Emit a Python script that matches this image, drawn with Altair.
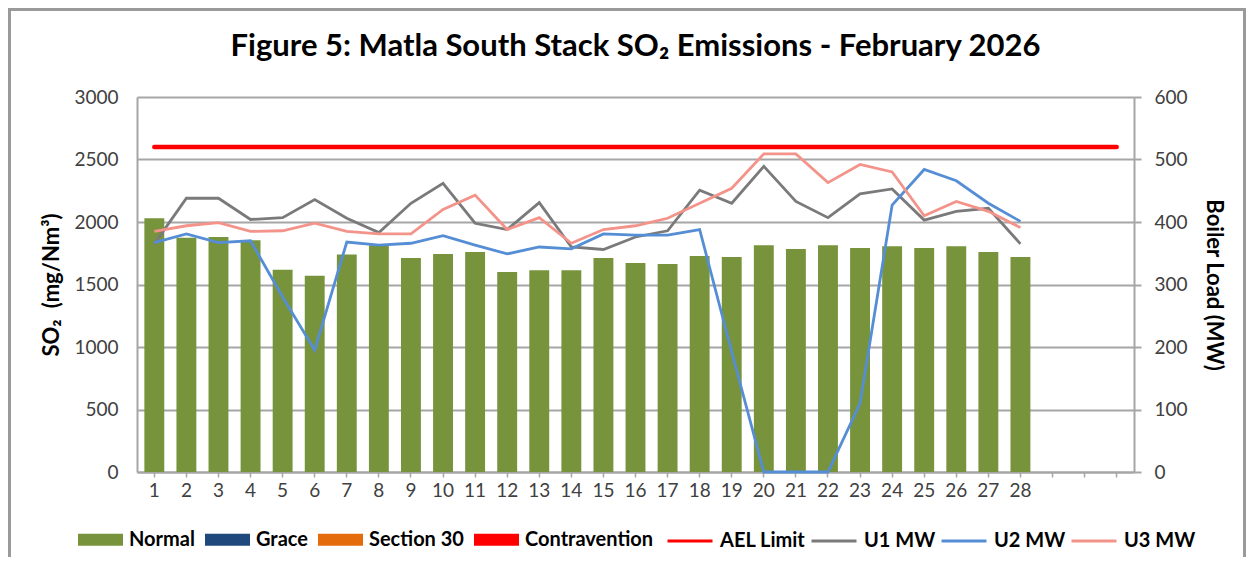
import altair as alt
import pandas as pd

# ---------------- data ----------------
days = list(range(1, 32))          # axis categories (February + 3 empty slots)
data_days = list(range(1, 29))     # days with data

so2 = [2030, 1875, 1880, 1855, 1618, 1570, 1740, 1815, 1712, 1745, 1760, 1600, 1615, 1615,
       1712, 1672, 1665, 1728, 1720, 1815, 1785, 1815, 1793, 1806, 1793, 1806, 1760, 1720]
ael_limit = 2600

u1_mw = [365, 438, 438, 404, 407, 436, 406, 383, 430, 462, 398, 388, 431, 360,
         356, 376, 386, 451, 430, 489, 433, 407, 445, 453, 403, 417, 422, 365]
u2_mw = [367, 381, 367, 370, 280, 195, 368, 363, 366, 378, 363, 349, 360, 357,
         381, 379, 379, 388, 192, 0, 0, 0, 110, 427, 484, 466, 430, 401]
u3_mw = [385, 394, 399, 385, 386, 398, 385, 381, 381, 420, 443, 388, 407, 366,
         388, 394, 406, 430, 454, 509, 509, 463, 492, 480, 410, 433, 417, 391]

bar_names = ["Normal", "Grace", "Section 30", "Contravention"]
bar_colors = ["#77933C", "#1F497D", "#E46C0A", "#FF0000"]
line_names = ["AEL Limit", "U1 MW", "U2 MW", "U3 MW"]
line_colors = ["#FF0000", "#7A7A7A", "#558ED5", "#F4938A"]

left_ticks = [0, 500, 1000, 1500, 2000, 2500, 3000]
right_ticks = [0, 100, 200, 300, 400, 500, 600]

title_text = "Figure 5: Matla South Stack SO\u2082 Emissions - February 2026"
left_title = "SO\u2082\u2002(mg/Nm\u00b3)"
right_title = "Boiler Load (MW)"

# ---------------- tables ----------------
bars_df = pd.DataFrame({"day": data_days, "value": so2, "status": "Normal"})
ael_df = pd.DataFrame({"day": days, "value": [ael_limit] * len(days), "series": "AEL Limit"})
mw_df = pd.concat([
    pd.DataFrame({"day": data_days, "mw": vals, "series": name})
    for vals, name in [(u1_mw, "U1 MW"), (u2_mw, "U2 MW"), (u3_mw, "U3 MW")]
], ignore_index=True)

W, H = 997, 375
PAD = {"left": 129, "top": 89, "right": 112, "bottom": 85}
GRID = "#A6A6A6"
FONT = "Lato"

x_enc = alt.X(
    "day:O",
    scale=alt.Scale(type="band", domain=days, paddingInner=0.38, paddingOuter=0.23),
    axis=alt.Axis(
        title=None, labelAngle=0,
        labelExpr="datum.value <= 28 ? datum.label : ''",
        tickSize=5, tickColor=GRID, tickWidth=1.5,
        domainColor=GRID, domainWidth=2,
        labelFont=FONT, labelFontSize=19, labelColor="#404040", labelPadding=4,
        grid=False,
    ),
)

legend_common = dict(
    title=None, orient="none", direction="horizontal", columns=4,
    symbolSize=2025,
    labelFont=FONT, labelFontSize=20, labelFontWeight="bold", labelColor="#000000",
    labelOffset=6, labelLimit=300,
)

fill_enc = alt.Fill(
    "status:N",
    scale=alt.Scale(domain=bar_names, range=bar_colors),
    legend=alt.Legend(
        legendX=-59, legendY=420, columnPadding=10,
        symbolType="M-1,-0.27H1V0.27H-1Z", symbolStrokeWidth=0, symbolOpacity=1,
        **legend_common,
    ),
)

stroke_enc = alt.Stroke(
    "series:N",
    scale=alt.Scale(domain=line_names, range=line_colors),
    legend=alt.Legend(
        legendX=529, legendY=420, columnPadding=-1,
        symbolType="stroke", symbolStrokeWidth=3, symbolOpacity=1,
        **legend_common,
    ),
)

y_left = alt.Y(
    "value:Q",
    scale=alt.Scale(domain=[0, 3000], nice=False),
    axis=alt.Axis(
        title=left_title, orient="left", values=left_ticks, format="d",
        grid=True, gridColor=GRID, gridWidth=2,
        domainColor=GRID, domainWidth=2, ticks=False,
        labelFont=FONT, labelFontSize=19, labelColor="#404040", labelPadding=19,
        titleFont=FONT, titleFontSize=22, titleFontWeight="bold", titleColor="#000000",
        titlePadding=10,
    ),
)

bars = alt.Chart(bars_df).mark_bar(opacity=1).encode(x=x_enc, y=y_left, fill=fill_enc)
ael = alt.Chart(ael_df).mark_line(strokeWidth=4.5, strokeCap="round").encode(
    x=x_enc, y=y_left, stroke=stroke_enc)

left_layer = alt.layer(bars, ael)

lines = alt.Chart(mw_df).mark_line(strokeWidth=2.8).encode(
    x=x_enc,
    y=alt.Y(
        "mw:Q",
        scale=alt.Scale(domain=[0, 600], nice=False),
        axis=alt.Axis(
            title=right_title, orient="right", values=right_ticks, format="d", grid=False,
            domainColor=GRID, domainWidth=2, tickColor=GRID, tickWidth=2, tickSize=7,
            labelFont=FONT, labelFontSize=19, labelColor="#404040", labelPadding=13,
            titleFont=FONT, titleFontSize=22, titleFontWeight="bold", titleColor="#000000",
            titlePadding=14,
        ),
    ),
    stroke=stroke_enc,
    detail="series:N",
)

frame = alt.Chart(pd.DataFrame({"f": [0]})).mark_rect(
    fillOpacity=0, stroke="#9A9A9A", strokeWidth=3
).encode(
    x=alt.value(-PAD["left"] + 1.5),
    x2=alt.value(W + PAD["right"] - 1.5),
    y=alt.value(-PAD["top"] + 1.5),
    y2=alt.value(H + PAD["bottom"] + 10),
)

chart = alt.layer(left_layer, lines, frame).resolve_scale(y="independent").properties(
    width=W, height=H,
    padding=PAD,
    autosize=alt.AutoSizeParams(type="none"),
    title=alt.TitleParams(
        title_text, font=FONT, fontSize=31, fontWeight="bold", color="#000000",
        anchor="middle", frame="group", baseline="alphabetic", offset=-79,
    ),
).configure_view(stroke=GRID, strokeWidth=2).configure(background="white")

chart.save("out.html", embed_options={"renderer": "svg", "actions": False})
